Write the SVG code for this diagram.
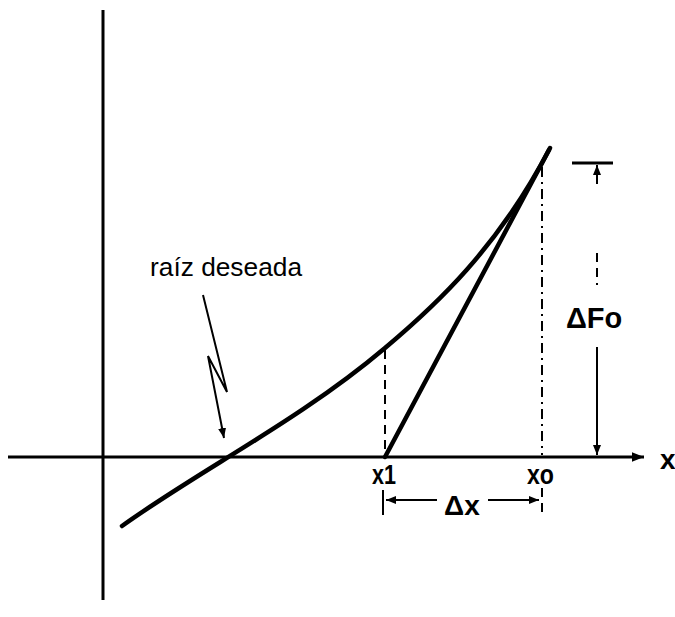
<svg xmlns="http://www.w3.org/2000/svg" width="675" height="617" viewBox="0 0 675 617">
<style>
.ax{stroke:#000;stroke-width:3;fill:none}
.crv{stroke:#000;stroke-width:4.5;fill:none;stroke-linecap:round}
.thin{stroke:#000;stroke-width:2;fill:none}
.dash{stroke:#000;stroke-width:2;fill:none;stroke-dasharray:9 6}
.dd{stroke:#000;stroke-width:2;fill:none;stroke-dasharray:10 5 2 5}
.lbl{font-family:"Liberation Sans",Arial,sans-serif;font-weight:bold;fill:#000}
.txt{font-family:"Liberation Sans",Arial,sans-serif;fill:#000}
</style>
<defs>
<marker id="ah" viewBox="0 0 10 10" refX="10" refY="5" markerWidth="5" markerHeight="5" orient="auto-start-reverse" markerUnits="strokeWidth">
<path d="M0,1 L10,5 L0,9 Z" fill="#000"/>
</marker>
<marker id="axh" viewBox="0 0 10 10" refX="10" refY="5" markerWidth="6" markerHeight="4" orient="auto" markerUnits="strokeWidth">
<path d="M0,1 L10,5 L0,9 Z" fill="#000"/>
</marker>
</defs>
<rect width="675" height="617" fill="#fff"/>
<g id="axes">
<line class="ax" x1="103" y1="10" x2="103" y2="600"/>
<line class="ax" x1="8" y1="457" x2="644" y2="457" marker-end="url(#axh)"/>
<text class="lbl" x="660" y="469" font-size="28">x</text>
</g>
<g id="curve">
<path class="crv" d="M122,526 C200,470 300,420 385,348 C435,306 498,248 550,148"/>
</g>
<g id="tangent">
<line class="crv" x1="385" y1="457" x2="549" y2="150"/>
</g>
<g id="connectors">
<line class="dash" x1="385" y1="350" x2="385" y2="455"/>
<line class="dd" x1="542" y1="167" x2="542" y2="455"/>
<polyline class="thin" points="203,295 227,392 208,356 224,438" marker-end="url(#ah)"/>
<line class="ax" x1="572" y1="163" x2="613" y2="163"/>
<line class="thin" x1="597" y1="184" x2="597" y2="165" marker-end="url(#ah)"/>
<line class="dash" x1="597" y1="253" x2="597" y2="285"/>
<line class="thin" x1="597" y1="347" x2="597" y2="455" marker-end="url(#ah)"/>
<line class="thin" x1="383" y1="490" x2="383" y2="515"/>
<line class="dash" x1="542" y1="488" x2="542" y2="515"/>
<line class="thin" x1="437" y1="500" x2="386" y2="500" marker-end="url(#ah)"/>
<line class="thin" x1="488" y1="500" x2="539" y2="500" marker-end="url(#ah)"/>
</g>
<g id="label-raiz">
<text class="txt" x="150" y="276" font-size="26" textLength="152" lengthAdjust="spacingAndGlyphs">raíz deseada</text>
</g>
<g id="label-x1"><text class="lbl" x="372" y="484" font-size="27" textLength="24" lengthAdjust="spacingAndGlyphs">x1</text></g>
<g id="label-x0"><text class="lbl" x="527" y="484" font-size="27" textLength="27" lengthAdjust="spacingAndGlyphs">xo</text></g>
<g id="label-dx"><text class="lbl" x="444" y="515" font-size="28">Δx</text></g>
<g id="label-dF"><text class="lbl" x="566" y="328" font-size="29">ΔFo</text></g>
</svg>
